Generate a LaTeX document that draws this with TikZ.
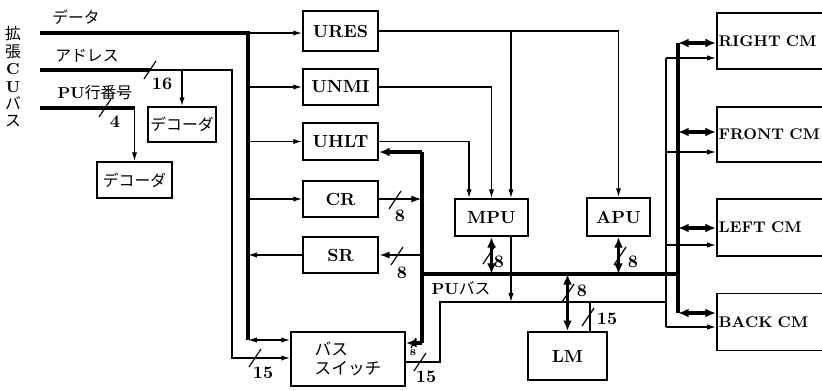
\documentclass[tikz,border=0pt]{standalone}
\usepackage{fontspec}
\newfontfamily\cjk{Noto Sans CJK JP}
\usetikzlibrary{arrows.meta}

\tikzset{
	box/.style={draw, line width=1.1pt, inner sep=0pt, font=\bfseries},
	cmbox/.style={box, font=\bfseries\fontsize{8.8}{10}\selectfont, text width=3.6cm, inner xsep=1pt, align=left},
	sig/.style={line width=0.7pt, >={Latex[length=5pt,width=3pt]}},
	mid/.style={line width=1.3pt, >={Latex[length=6pt,width=4pt]}},
	bus/.style={line width=1.9pt, >={Latex[length=6pt,width=5pt]}},
	jp/.style={font=\cjk\fontsize{9}{11}\selectfont},
	num/.style={font=\bfseries\fontsize{10}{10}\selectfont, inner sep=0pt}
}

\begin{document}
\begin{tikzpicture}[x=0.02cm, y=-0.02cm]
	\clip (0,0) rectangle (822,390);

	\node[align=center, font=\fontsize{9}{9.9}\selectfont] (cubus) at (13,77) {{\cjk 拡}\\{\cjk 張}\\\textbf{C}\\\textbf{U}\\{\cjk バ}\\{\cjk ス}};
	\node[jp] (tdata) at (76,17) {データ};
	\node[jp] (taddr) at (87,56) {アドレス};
	\node[jp] (tpu) at (95,92) {{\normalfont\bfseries PU}行番号};
	\node[jp] (tpubus) at (461,288) {{\normalfont\bfseries PU}バス};

	\node[box, jp, minimum width=1.36cm, minimum height=0.7cm] (dec1) at (182,124.5) {デコーダ};
	\node[box, jp, minimum width=1.5cm, minimum height=0.72cm] (dec2) at (134.5,180) {デコーダ};
	\node[box, minimum width=1.5cm, minimum height=0.8cm] (ures) at (340.5,31) {URES};
	\node[box, minimum width=1.5cm, minimum height=0.72cm] (unmi) at (340.5,87) {UNMI};
	\node[box, minimum width=1.5cm, minimum height=0.74cm] (uhlt) at (340.5,141.5) {UHLT};
	\node[box, minimum width=1.5cm, minimum height=0.72cm] (cr) at (340.5,199) {CR};
	\node[box, minimum width=1.5cm, minimum height=0.72cm] (sr) at (340.5,255) {SR};
	\node[box, jp, font=\cjk\fontsize{9.5}{11}\selectfont, align=left, minimum width=2.28cm, minimum height=1.08cm] (bsw) at (348,359) {バス\\スイッチ};
	\node[box, minimum width=1.46cm, minimum height=0.74cm] (mpu) at (491.5,217.5) {MPU};
	\node[box, minimum width=1.26cm, minimum height=0.76cm] (apu) at (618.5,217) {APU};
	\node[box, minimum width=1.58cm, minimum height=0.96cm] (lm) at (567.5,356) {LM};
	\foreach \nm/\y/\h/\txt in {
		rcm/41/1.12/RIGHT CM,
		fcm/134.5/1.1/FRONT CM,
		lcm/227.5/1.14/LEFT CM,
		bcm/322/1.14/BACK CM
	}{
		\node[cmbox, minimum height=\h cm, anchor=west] (\nm) at (716,\y) {\txt};
	}

	\coordinate (dL) at (40,33);
	\coordinate (dV) at (248,33);
	\coordinate (dB) at (248,340);
	\coordinate (aL) at (40,70);
	\coordinate (aS) at (150,70);
	\coordinate (aV) at (232,70);
	\coordinate (aB) at (232,358);
	\coordinate (pL) at (40,108);
	\coordinate (pV) at (422,152);
	\coordinate (pB) at (422,343);
	\coordinate (puL) at (422,274);
	\coordinate (puR) at (678,274);
	\coordinate (cmT) at (678,43);
	\coordinate (cmB) at (678,313);
	\coordinate (abS) at (440,362);
	\coordinate (abL) at (440,302);
	\coordinate (abR) at (666,302);
	\coordinate (abT) at (666,58);
	\coordinate (abB) at (666,327);
	\coordinate (m1) at ([xshift=0.3cm]mpu.north west);
	\coordinate (m3) at ([xshift=-0.36cm]mpu.north east);
	\coordinate (m3s) at ([xshift=-0.36cm]mpu.south east);
	\coordinate (l15) at ([xshift=-0.36cm]lm.north east);

	\draw[bus] (dL) -- (dV) -- (dB);
	\draw[sig,->] (dV) -- (dV -| ures.west);
	\foreach \nm in {unmi, uhlt, cr}
		\draw[sig,->] (dV |- \nm.west) -- (\nm.west);
	\draw[sig,->] (sr.west) -- (dV |- sr.west);
	\draw[sig,<->] (dB) -- (dB -| bsw.west);

	\draw[bus] (aL) -- (aS);
	\draw[sig,->] (aS) -- (aV) -- (aB) -- (aB -| bsw.west);
	\draw[sig,->] (dec1.north |- aL) -- (dec1.north);
	\draw[bus] (pL) -- (dec2.north |- pL);
	\draw[sig,->] (dec2.north |- pL) -- (dec2.north);

	\draw[sig,->] (ures.east) -| (apu.north);
	\draw[sig,->] (ures.east -| m3) -- (m3);
	\draw[sig,->] (unmi.east) -| (mpu.north);
	\draw[sig,->] (uhlt.east) -| (m1);

	\draw[bus,->] (pV) -- (pV -| uhlt.east);
	\draw[bus] (pV) -- (pB);
	\draw[bus,->] (pB) -- (pB -| bsw.east);
	\draw[mid,->] (cr.east) -- (cr.east -| pV);
	\draw[mid,->] (sr.east -| pV) -- (sr.east);
	\draw[bus] (puL) -- (puR);
	\draw[bus] (cmT) -- (cmB);
	\draw[bus,<->] (mpu.south) -- (mpu.south |- puL);
	\draw[bus,<->] (apu.south) -- (apu.south |- puL);
	\draw[bus,<->] (lm.north |- puL) -- (lm.north);

	\draw[sig] (abS -| bsw.east) -- (abS) -- (abL) -- (abR);
	\draw[sig] (abT) -- (abB);
	\draw[sig,->] (m3s) -- (m3s |- abL);
	\draw[sig] (l15 |- abL) -- (l15);

	\foreach \nm/\da/\db in {rcm/-0.04/-0.34, fcm/0.05/-0.35, lcm/-0.01/-0.35, bcm/0.18/-0.1}{
		\coordinate (\nm a) at ([yshift=\da cm]\nm.west);
		\coordinate (\nm b) at ([yshift=\db cm]\nm.west);
		\draw[bus,<->] (cmT |- \nm a) -- (\nm a);
		\draw[sig,->] (abT |- \nm b) -- (\nm b);
	}

	\foreach \x/\y/\lx/\ly/\n in {
		150/70/162/84/16,
		105/108/115/122/4,
		395/200/400/216/8,
		397/256/402/273/8,
		255/358/263/373/15,
		420/362/426/377/15,
		489/255/499/262/8,
		620/256/633/262/8,
		568/293/582/291/8,
		588/317/607/319/15
	}{
		\draw[sig] (\x-6,\y+9) -- (\x+6,\y-9);
		\node[num] (w\x) at (\lx,\ly) {\n};
	}
	\draw[sig] (411,348) -- (416,338);
	\node[num, font=\bfseries\tiny] (w8) at (413,353) {8};
\end{tikzpicture}
\end{document}
